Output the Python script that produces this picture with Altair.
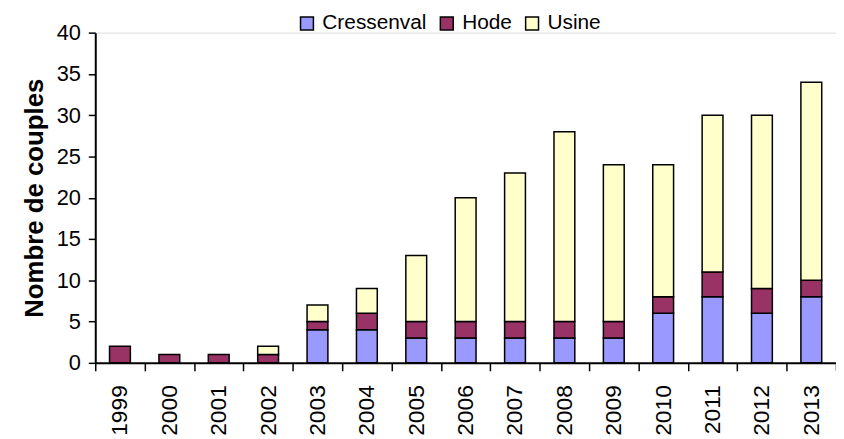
import altair as alt
import pandas as pd

years = ["1999", "2000", "2001", "2002", "2003", "2004", "2005", "2006",
         "2007", "2008", "2009", "2010", "2011", "2012", "2013"]
cressenval = [0, 0, 0, 0, 4, 4, 3, 3, 3, 3, 3, 6, 8, 6, 8]
hode = [2, 1, 1, 1, 1, 2, 2, 2, 2, 2, 2, 2, 3, 3, 2]
usine = [0, 0, 0, 1, 2, 3, 8, 15, 18, 23, 19, 16, 19, 21, 24]

series = ["Cressenval", "Hode", "Usine"]
colors = ["#9999FF", "#993366", "#FFFFCC"]

rows = []
for i, y in enumerate(years):
    for k, (name, vals) in enumerate(zip(series, [cressenval, hode, usine])):
        if vals[i] > 0:
            rows.append({"year": y, "site": name, "value": vals[i], "ord": k})
df = pd.DataFrame(rows)

font = "Liberation Sans"

chart = alt.Chart(df).mark_bar(stroke="black", strokeWidth=1.5, size=21).encode(
    x=alt.X("year:N", sort=years, title=None,
            scale=alt.Scale(domain=years, paddingInner=0, paddingOuter=0),
            axis=alt.Axis(labelAngle=-90, labelFontSize=23, labelFont=font,
                          labelColor="black", tickBand="extent", tickSize=8,
                          tickColor="black", tickWidth=1.5, domainColor="black",
                          domainWidth=2, labelPadding=14, labelBaseline="middle",
                          labelAlign="right")),
    y=alt.Y("value:Q", stack="zero", title="Nombre de couples",
            scale=alt.Scale(domain=[0, 40], nice=False),
            axis=alt.Axis(values=list(range(0, 41, 5)), labelFontSize=22,
                          labelFont=font, labelColor="black", tickSize=7,
                          tickColor="black", tickWidth=1.5, domainColor="black",
                          domainWidth=2, labelPadding=8, grid=False,
                          titleFont=font, titleFontSize=26, titleFontWeight="bold",
                          titleColor="black", titlePadding=9)),
    color=alt.Color("site:N", scale=alt.Scale(domain=series, range=colors),
                    legend=alt.Legend(title=None, orient="none", legendX=203,
                                      legendY=-20, direction="horizontal",
                                      symbolType="square", symbolSize=169,
                                      symbolStrokeColor="black",
                                      symbolStrokeWidth=1.5, symbolOpacity=1,
                                      labelFont=font, labelFontSize=21,
                                      labelColor="black", labelOffset=5,
                                      columnPadding=9, padding=0)),
    order=alt.Order("ord:Q"),
).properties(
    width=747, height=333,
    autosize=alt.AutoSizeParams(type="none"),
    padding={"left": 88, "top": 23, "right": 0, "bottom": 80},
).configure_view(stroke=None).configure(background="white")

chart.save("out.html", embed_options={"renderer": "svg", "actions": False})
